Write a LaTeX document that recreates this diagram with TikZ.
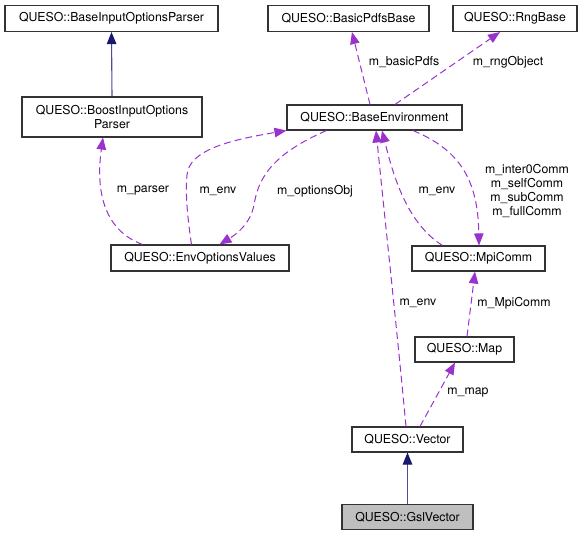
\documentclass[tikz,border=0pt]{standalone}
\usepackage{fontspec}
\setmainfont{TeX Gyre Heros}
\usetikzlibrary{arrows.meta}
\definecolor{edgepurple}{HTML}{9A32CD}
\definecolor{inhblue}{HTML}{191970}
\definecolor{inhline}{HTML}{4B4B98}
\definecolor{boxborder}{HTML}{333333}
\definecolor{grayfill}{HTML}{BFBFBF}
\tikzset{
  box/.style={draw=boxborder, line width=1.1pt, fill=white, inner sep=0pt, align=center,
    font=\fontsize{12.3}{14.2}\selectfont},
  lbl/.style={inner sep=0pt, align=center, font=\fontsize{12.3}{14.2}\selectfont},
  usage/.style={draw=edgepurple, line width=1pt, dash pattern=on 7pt off 4pt,
    -{Triangle[length=12pt,width=9.5pt,fill=edgepurple]}},
  inherit/.style={draw=inhline, line width=1.1pt,
    -{Triangle[length=12pt,width=9.5pt,fill=inhblue,color=inhblue]}},
}
\begin{document}
\begin{tikzpicture}[x=1pt,y=-1pt]
\useasboundingbox (0,0) rectangle (587,536);
% nodes
\node[box, minimum width=213pt, minimum height=26pt] (bip) at (111.5,18.5) {QUESO::BaseInputOptionsParser};
\node[box, minimum width=180pt, minimum height=40pt] (boost) at (112,117) {QUESO::BoostInputOptions\\Parser};
\node[box, minimum width=178pt, minimum height=26pt] (env) at (200,258) {QUESO::EnvOptionsValues};
\node[box, minimum width=161pt, minimum height=26pt] (bpdf) at (348.5,18.5) {QUESO::BasicPdfsBase};
\node[box, minimum width=124pt, minimum height=26pt] (rng) at (515,18.5) {QUESO::RngBase};
\node[box, minimum width=175pt, minimum height=25pt] (base) at (374.5,117.5) {QUESO::BaseEnvironment};
\node[box, minimum width=133pt, minimum height=25pt] (mpi) at (478.5,258.5) {QUESO::MpiComm};
\node[box, minimum width=99pt, minimum height=25pt] (map) at (464.5,349.5) {QUESO::Map};
\node[box, minimum width=111pt, minimum height=25pt] (vec) at (407.5,439.5) {QUESO::Vector};
\node[box, fill=grayfill, minimum width=131pt, minimum height=25pt] (gsl) at (407.5,517) {QUESO::GslVector};
% inheritance
\draw[inherit] (boost.north) -- (bip.south);
\draw[inherit] (gsl.north) -- (vec.south);
% usage edges
\draw[usage] ([xshift=32pt]env.north west) .. controls (98,228) and (97,180) .. ([xshift=-9pt]boost.south);
\draw[usage] ([xshift=81pt]env.north west) .. controls (188,220) and (185,195) .. (187,175)
   .. controls (189,150) and (230,140) .. (base.south west);
\draw[usage] ([xshift=40pt]base.south west) .. controls (270,155) and (258,180) .. (254,205)
   .. controls (250,225) and (235,235) .. ([xshift=109pt]env.north west);
\draw[usage] ([xshift=-4.5pt]base.north) -- ([xshift=3.5pt]bpdf.south);
\draw[usage] ([xshift=20.5pt]base.north) -- ([xshift=-15pt]rng.south);
\draw[usage] ([xshift=31pt]mpi.north west) .. controls (405,222) and (392,170) .. ([xshift=7.5pt]base.south);
\draw[usage] ([xshift=38.5pt]base.south) .. controls (460,150) and (478,180) .. ([xshift=0.5pt]mpi.north);
\draw[usage] ([xshift=2.5pt]map.north) -- ([xshift=-3.5pt]mpi.south);
\draw[usage] ([xshift=12.5pt]vec.north) -- ([xshift=-9.5pt]map.south);
\draw[usage] ([xshift=-1.5pt]vec.north) .. controls (397,330) and (386,230) .. ([xshift=1.5pt]base.south);
% labels
\node[lbl] (l1) at (143,191) {m\_parser};
\node[lbl] (l2) at (218,191) {m\_env};
\node[lbl] (l3) at (315,191) {m\_optionsObj};
\node[lbl] (l4) at (404,62) {m\_basicPdfs};
\node[lbl] (l5) at (508,62) {m\_rngObject};
\node[lbl] (l6) at (437,191) {m\_env};
\node[lbl] (l7) at (527,191) {m\_inter0Comm\\m\_selfComm\\m\_subComm\\m\_fullComm};
\node[lbl] (l8) at (514,303) {m\_MpiComm};
\node[lbl] (l9) at (418,303) {m\_env};
\node[lbl] (l10) at (468,393) {m\_map};
\end{tikzpicture}
\end{document}
